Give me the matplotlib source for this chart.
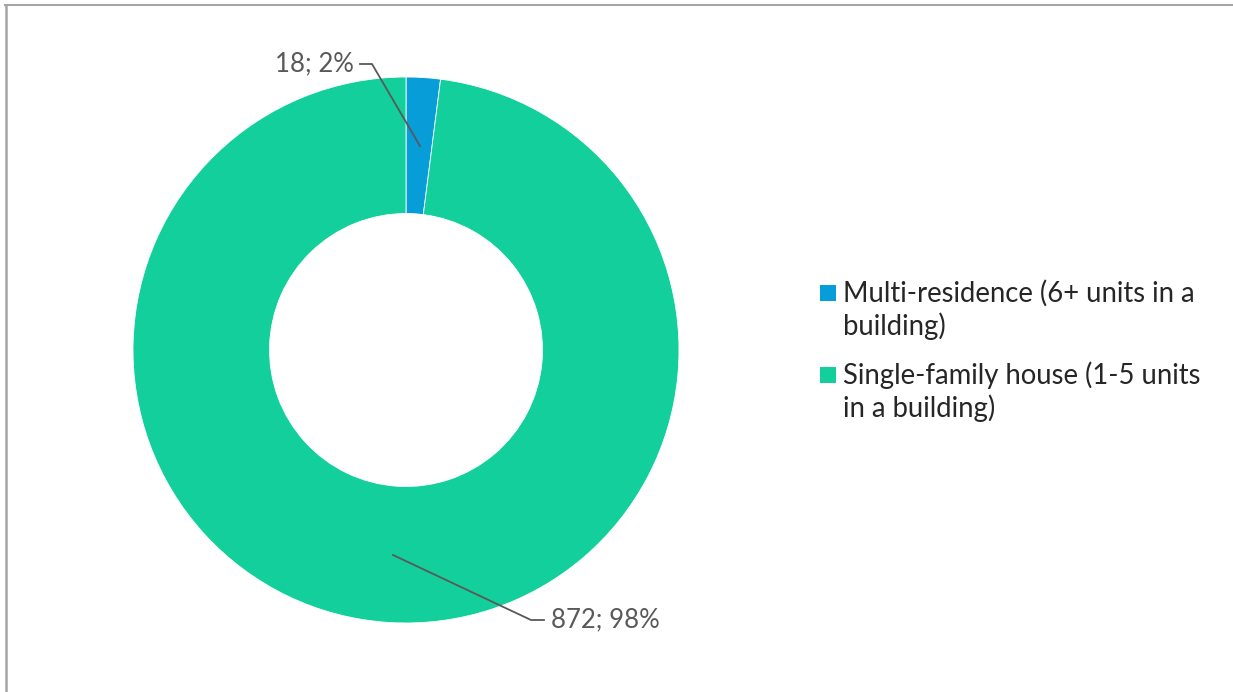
import matplotlib.pyplot as plt
from matplotlib.lines import Line2D
from matplotlib.patches import Rectangle

plt.rcParams['font.family'] = ['Lato', 'DejaVu Sans']

labels = ["Multi-residence (6+ units in a\nbuilding)",
          "Single-family house (1-5 units\nin a building)"]
values = [18, 872]
pcts = ["2%", "98%"]
colors = ["#069DD8", "#13CF9B"]

W, H = 1233, 692
fig = plt.figure(figsize=(W / 100, H / 100), dpi=100)

# donut centre (406, 350) px, outer radius 273 px
cx, cy, r = 406, H - 350, 273
ax = fig.add_axes([(cx - r) / W, (cy - r) / H, 2 * r / W, 2 * r / H])
wedges, _ = ax.pie(values, colors=colors, startangle=90, counterclock=False,
                   radius=1, wedgeprops=dict(width=0.5, edgecolor='white', linewidth=0.6))
ax.set_xlim(-1, 1)
ax.set_ylim(-1, 1)
ax.set_aspect('equal')
ax.axis('off')

lc = "#595959"
# helper: pixel (from top-left) -> axes data coords
def px(x, y):
    return ((x - cx) / r, ((H - y) - cy) / r)

txt = [f"{v}; {p}" for v, p in zip(values, pcts)]
p0, p1, p2 = px(420, 146), px(372, 64), px(360, 64)
ax.plot([p0[0], p1[0], p2[0]], [p0[1], p1[1], p2[1]], color=lc, lw=1.3, clip_on=False)
t = px(354, 64)
ax.text(t[0], t[1], txt[0], ha='right', va='center', fontsize=18.5, color=lc)

q0, q1, q2 = px(393, 555), px(531, 620), px(544, 620)
ax.plot([q0[0], q1[0], q2[0]], [q0[1], q1[1], q2[1]], color=lc, lw=1.3, clip_on=False)
t = px(551, 620)
ax.text(t[0], t[1], txt[1], ha='left', va='center', fontsize=18.5, color=lc)

# legend drawn by hand: square marker level with first line of each label
item_y = [293, 375]
line_h = 33
for lab, c, y in zip(labels, colors, item_y):
    fig.add_artist(Rectangle((820 / W, (H - y - 8) / H), 16 / W, 16 / H,
                             facecolor=c, edgecolor='none', transform=fig.transFigure))
    for i, line in enumerate(lab.split("\n")):
        fig.text(843 / W, (H - y - i * line_h) / H, line, ha='left', va='center',
                 fontsize=19.8, color='#262626')

# frame lines (top and left)
fig.add_artist(Line2D([5 / W, 1232 / W], [(H - 5) / H] * 2, color='#A6A6A6', lw=1.5))
fig.add_artist(Line2D([5.5 / W] * 2, [0, (H - 5) / H], color='#A6A6A6', lw=1.8))

fig.savefig("out.png", dpi=100)
